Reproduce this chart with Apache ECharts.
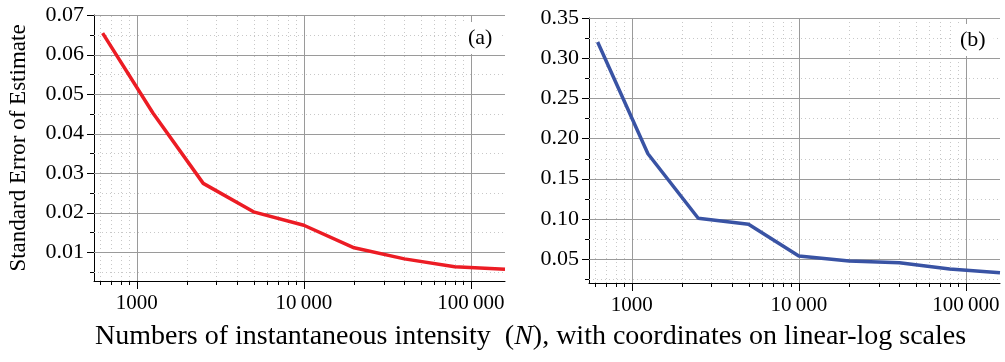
<!DOCTYPE html>
<html>
<head>
<meta charset="utf-8">
<script src="https://cdn.jsdelivr.net/npm/echarts@6/dist/echarts.min.js"></script>
<style>html,body{margin:0;padding:0;background:#fff;font-family:"Liberation Serif",serif;}#c{width:1005px;height:362px;}</style>
</head>
<body>
<div id="c"></div>
<script>
// ---- data ----
const N = [625, 1250, 2500, 5000, 10000, 20000, 40000, 80000, 160000];
const seA = [0.0654, 0.0452, 0.0274, 0.0202, 0.0168, 0.0111, 0.0083, 0.0063, 0.0057];
const seB = [0.320, 0.181, 0.1006, 0.0931, 0.0536, 0.0474, 0.0453, 0.0374, 0.0328];
const xMajorTicks = [1000, 10000, 100000];
const xMinorTicks = [600, 700, 800, 900, 2000, 3000, 4000, 5000, 6000, 7000, 8000, 9000,
  20000, 30000, 40000, 50000, 60000, 70000, 80000, 90000];
const yMajorA = [0.01, 0.02, 0.03, 0.04, 0.05, 0.06, 0.07];
const yMinorA = [0.005, 0.015, 0.025, 0.035, 0.045, 0.055, 0.065];
const yMajorB = [0.05, 0.10, 0.15, 0.20, 0.25, 0.30, 0.35];
const yMinorB = [0.025, 0.075, 0.125, 0.175, 0.225, 0.275, 0.325];
const panelLabels = ['(a)', '(b)'];
const yName = 'Standard Error of Estimate';

// ---- layout ----
const XMIN = 555, XMAX = 160000;
const yRange = [[0.0027, 0.07], [0.02, 0.35]];
const FONT = 'Liberation Serif';
const XTICKFONT = '21px "Liberation Serif"';
const YTICKFONT = '22px "Liberation Serif"';
const chart = echarts.init(document.getElementById('c'), null, {renderer: 'canvas'});

function fmtX(v) {
  const r = Math.round(v);
  const s = String(r);
  if (r >= 10000) return s.slice(0, s.length - 3) + '\u2009' + s.slice(s.length - 3);
  return s;
}
const px = v => Math.round(v) + 0.5;

function vGrid(gi, vals, ymin, ymax, style) {
  return {
    type: 'custom', xAxisIndex: gi, yAxisIndex: gi, clip: false, silent: true, z: 1,
    data: vals.map(v => [v, ymin]),
    renderItem: (p, api) => {
      const a = api.coord([api.value(0), ymin]);
      const b = api.coord([api.value(0), ymax]);
      return {type: 'line', shape: {x1: px(a[0]), y1: a[1], x2: px(b[0]), y2: b[1]}, style: style};
    }
  };
}
function hGrid(gi, vals, xmin, xmax, style) {
  return {
    type: 'custom', xAxisIndex: gi, yAxisIndex: gi, clip: false, silent: true, z: 1,
    data: vals.map(v => [xmin, v]),
    renderItem: (p, api) => {
      const a = api.coord([xmin, api.value(1)]);
      const b = api.coord([xmax, api.value(1)]);
      return {type: 'line', shape: {x1: a[0], y1: px(a[1]), x2: b[0], y2: px(b[1])}, style: style};
    }
  };
}
function xTicks(gi, vals, ymin, len) {
  return {
    type: 'custom', xAxisIndex: gi, yAxisIndex: gi, clip: false, silent: true, z: 5,
    data: vals.map(v => [v, ymin]),
    renderItem: (p, api) => {
      const a = api.coord([api.value(0), ymin]);
      return {type: 'line', shape: {x1: px(a[0]), y1: a[1], x2: px(a[0]), y2: a[1] + len},
        style: {stroke: '#000', lineWidth: 1}};
    }
  };
}
function yTicks(gi, vals, xmin, len) {
  return {
    type: 'custom', xAxisIndex: gi, yAxisIndex: gi, clip: false, silent: true, z: 5,
    data: vals.map(v => [xmin, v]),
    renderItem: (p, api) => {
      const a = api.coord([xmin, api.value(1)]);
      return {type: 'line', shape: {x1: a[0] - len, y1: px(a[1]), x2: a[0], y2: px(a[1])},
        style: {stroke: '#000', lineWidth: 1}};
    }
  };
}
function xLabels(gi, vals, ymin, gap) {
  return {
    type: 'custom', xAxisIndex: gi, yAxisIndex: gi, clip: false, silent: true, z: 5,
    data: vals.map(v => [v, ymin]),
    renderItem: (p, api) => {
      const a = api.coord([api.value(0), ymin]);
      return {type: 'text', x: a[0], y: a[1] + gap,
        style: {text: fmtX(api.value(0)), font: XTICKFONT, fill: '#000', align: 'center', verticalAlign: 'top'}};
    }
  };
}
function yLabels(gi, vals, xmin, gap) {
  return {
    type: 'custom', xAxisIndex: gi, yAxisIndex: gi, clip: false, silent: true, z: 5,
    data: vals.map(v => [xmin, v]),
    renderItem: (p, api) => {
      const a = api.coord([xmin, api.value(1)]);
      return {type: 'text', x: a[0] - gap, y: a[1],
        style: {text: api.value(1).toFixed(2), font: YTICKFONT, fill: '#000', align: 'right', verticalAlign: 'middle'}};
    }
  };
}

const majorStyle = {stroke: '#9a9a9a', lineWidth: 1};
const minorStyle = {stroke: '#c8c8c8', lineWidth: 1, lineDash: [1, 3]};

const grids = [
  {left: 94, top: 15, width: 411, height: 266},
  {left: 589, top: 18, width: 411, height: 265}
];

const xAxes = [0, 1].map(i => ({
  type: 'log', gridIndex: i, min: XMIN, max: XMAX, logBase: 10,
  axisLine: {show: true, onZero: false, lineStyle: {color: '#000', width: 1}},
  axisTick: {show: false},
  splitLine: {show: false},
  minorTick: {show: false},
  axisLabel: {show: false}
}));
const yAxes = [0, 1].map(i => ({
  type: 'value', gridIndex: i, min: yRange[i][0], max: yRange[i][1],
  axisLine: {show: true, lineStyle: {color: '#000', width: 1}},
  axisTick: {show: false},
  splitLine: {show: false},
  axisLabel: {show: false},
  name: i === 0 ? yName : '',
  nameLocation: 'middle', nameRotate: 90, nameGap: 64,
  nameTextStyle: {color: '#000', fontFamily: FONT, fontSize: 23, fontWeight: 'normal'}
}));

const series = [];
[[yMajorA, yMinorA], [yMajorB, yMinorB]].forEach((ys, i) => {
  const [y0, y1] = yRange[i];
  series.push(vGrid(i, xMinorTicks, y0, y1, minorStyle));
  series.push(hGrid(i, ys[1], XMIN, XMAX, minorStyle));
  series.push(vGrid(i, xMajorTicks, y0, y1, majorStyle));
  series.push(hGrid(i, ys[0], XMIN, XMAX, majorStyle));
  series.push(xTicks(i, xMajorTicks, y0, 8));
  series.push(xTicks(i, xMinorTicks, y0, 4));
  series.push(yTicks(i, ys[0], XMIN, 7));
  series.push(yTicks(i, ys[1], XMIN, 4));
  series.push(xLabels(i, xMajorTicks, y0, 12));
  series.push(yLabels(i, ys[0], XMIN, 10));
});
series.push({
  type: 'line', xAxisIndex: 0, yAxisIndex: 0, data: N.map((n, k) => [n, seA[k]]),
  symbol: 'none', lineStyle: {color: '#ec1c24', width: 3.5}, z: 10, silent: true
});
series.push({
  type: 'line', xAxisIndex: 1, yAxisIndex: 1, data: N.map((n, k) => [n, seB[k]]),
  symbol: 'none', lineStyle: {color: '#3953a4', width: 3.5}, z: 10, silent: true
});

chart.setOption({
  animation: false,
  textStyle: {fontFamily: FONT, color: '#000'},
  grid: grids,
  xAxis: xAxes,
  yAxis: yAxes,
  series: series,
  title: {
    left: 95, top: 323, padding: 0,
    text: '{r|Numbers of instantaneous intensity  (}{i|N}{r|), with coordinates on linear-log scales}',
    textStyle: {
      fontWeight: 'normal', fontFamily: FONT,
      rich: {
        r: {fontFamily: FONT, fontSize: 28, fontWeight: 'normal', color: '#000'},
        i: {fontFamily: FONT, fontSize: 28, fontWeight: 'normal', color: '#000', fontStyle: 'italic'}
      }
    }
  },
  graphic: [
    {type: 'text', x: 460, y: 22, z: 100,
     style: {text: panelLabels[0], fill: '#000', font: '22px "Liberation Serif"', backgroundColor: '#fff', padding: [5, 8, 5, 8]}},
    {type: 'text', x: 952, y: 24, z: 100,
     style: {text: panelLabels[1], fill: '#000', font: '22px "Liberation Serif"', backgroundColor: '#fff', padding: [5, 8, 5, 8]}}
  ]
});
</script>
</body>
</html>
